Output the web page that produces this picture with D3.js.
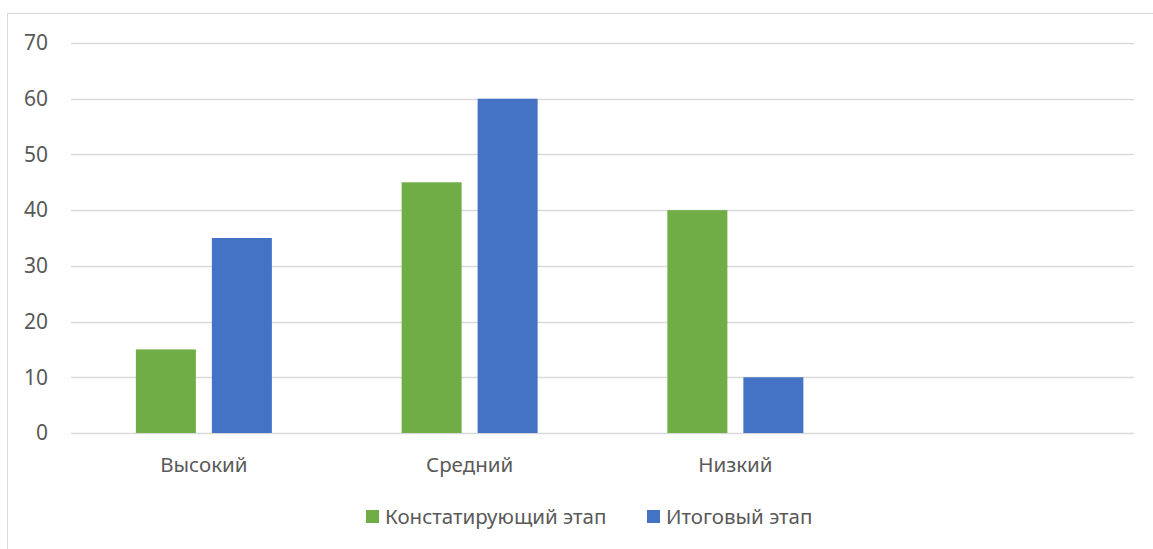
<!DOCTYPE html>
<html>
<head>
<meta charset="utf-8">
<script src="https://cdn.jsdelivr.net/npm/d3@7"></script>
<style>
  body { margin: 0; background: #fff; }
  text { font-family: "Noto Sans", sans-serif; fill: #595959; }
</style>
</head>
<body>
<svg id="chart" width="1153" height="549"></svg>
<script>
var categories = ["Высокий", "Средний", "Низкий", ""];
var seriesNames = ["Констатирующий этап", "Итоговый этап"];
var stage1 = [15, 45, 40, null];
var stage2 = [35, 60, 10, null];
var yTicks = [0, 10, 20, 30, 40, 50, 60, 70];
var colors = ["#70ad47", "#4472c4"];

var svg = d3.select("#chart");
var margin = {top: 43, right: 19, bottom: 116, left: 71};
var width = +svg.attr("width") - margin.left - margin.right;
var height = +svg.attr("height") - margin.top - margin.bottom;

// outer frame of the chart area
svg.append("rect")
    .attr("x", 7.5).attr("y", 13.5)
    .attr("width", 1160).attr("height", 560)
    .attr("fill", "none")
    .attr("stroke", "#d9d9d9");

var g = svg.append("g")
    .attr("transform", "translate(" + margin.left + "," + margin.top + ")");

var x = d3.scaleBand().domain(d3.range(categories.length)).range([0, width]);
var y = d3.scaleLinear().domain([0, 70]).range([height, 0]);

var data = categories.map(function(c, i) {
  return {cat: i, values: [stage1[i], stage2[i]]};
});

var inner = d3.scaleBand().domain([0, 1])
    .range([x.bandwidth() / 2 - 68, x.bandwidth() / 2 + 68])
    .paddingInner(16 / 76);

// gridlines
g.selectAll(".grid")
    .data(yTicks)
  .enter().append("line")
    .attr("x1", 0).attr("x2", width)
    .attr("y1", function(d) { return Math.round(y(d)) + 0.5; })
    .attr("y2", function(d) { return Math.round(y(d)) + 0.5; })
    .attr("stroke", "#d9d9d9")
    .attr("stroke-width", 1.5);

// y labels
g.selectAll(".ylab")
    .data(yTicks)
  .enter().append("text")
    .attr("x", -23)
    .attr("y", function(d) { return y(d); })
    .attr("dy", "0.35em")
    .attr("text-anchor", "end")
    .style("font-size", "21px")
    .text(function(d) { return d; });

// bars
var groups = g.selectAll(".cat")
    .data(data)
  .enter().append("g")
    .attr("transform", function(d) { return "translate(" + x(d.cat) + ",0)"; });

groups.selectAll("rect")
    .data(function(d) { return d.values.map(function(v, k) { return {k: k, v: v}; }).filter(function(e) { return e.v != null; }); })
  .enter().append("rect")
    .attr("x", function(d) { return inner(d.k); })
    .attr("width", inner.bandwidth())
    .attr("y", function(d) { return y(d.v); })
    .attr("height", function(d) { return y(0) - y(d.v); })
    .attr("fill", function(d) { return colors[d.k]; });

// category labels
g.selectAll(".xlab")
    .data(categories)
  .enter().append("text")
    .attr("x", function(d, i) { return x(i) + x.bandwidth() / 2; })
    .attr("y", height + 39)
    .attr("text-anchor", "middle")
    .style("font-size", "20.5px")
    .text(function(d) { return d; });

// legend
var legendX = [366, 647];
var legend = svg.selectAll(".legend")
    .data(seriesNames)
  .enter().append("g")
    .attr("transform", function(d, i) { return "translate(" + legendX[i] + ",510)"; });

legend.append("rect")
    .attr("width", 13).attr("height", 13)
    .attr("fill", function(d, i) { return colors[i]; });

legend.append("text")
    .attr("x", 19)
    .attr("y", 7)
    .attr("dy", "0.35em")
    .style("font-size", "20.5px")
    .text(function(d) { return d; });
</script>
</body>
</html>
